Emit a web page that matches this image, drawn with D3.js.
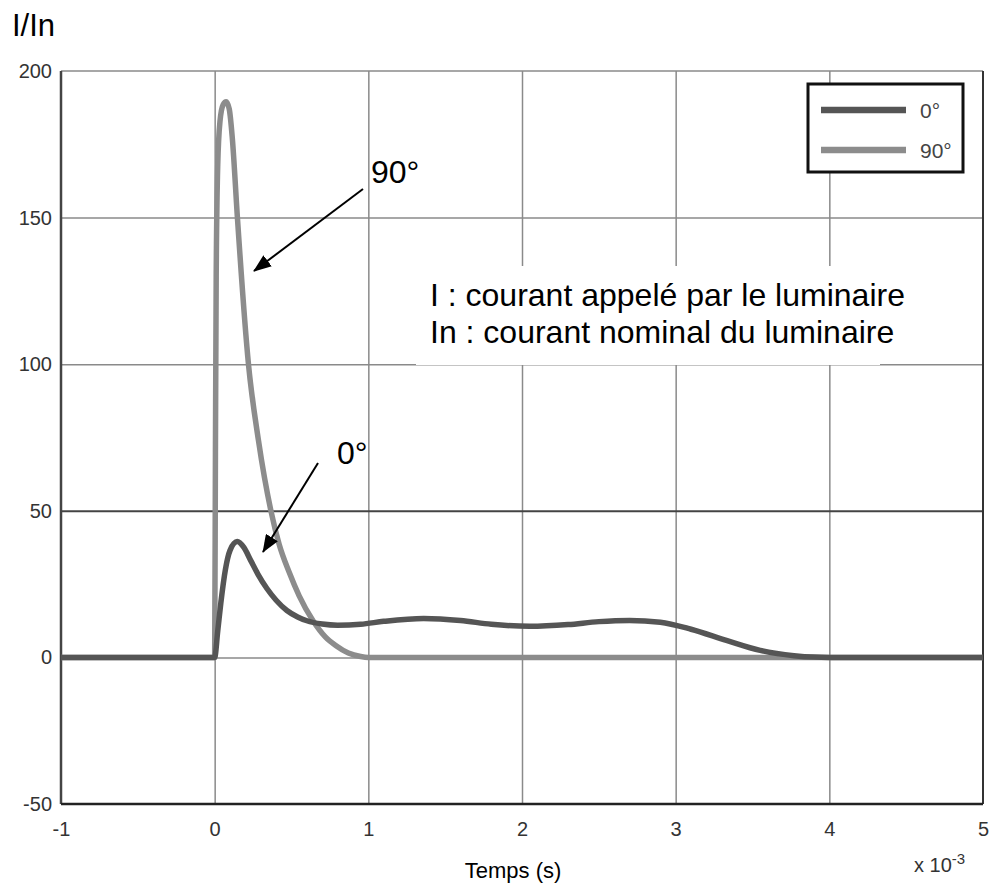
<!DOCTYPE html>
<html>
<head>
<meta charset="utf-8">
<script src="https://cdn.jsdelivr.net/npm/d3@7"></script>
<style>
  body { margin: 0; background: #fff; }
  svg text { font-family: Arial, "Liberation Sans", sans-serif; }
</style>
</head>
<body>
<div id="chart"></div>
<script>
// values (time in ms, i.e. x 10^-3 s)
const xTicks = [-1, 0, 1, 2, 3, 4, 5];
const yTicks = [-50, 0, 50, 100, 150, 200];

const t90 = [-1, 0, 0.005, 0.01, 0.02, 0.035, 0.055, 0.075, 0.095, 0.115, 0.148, 0.22, 0.285, 0.366, 0.42, 0.485, 0.55, 0.64, 0.72, 0.79, 0.87, 0.95, 1.0, 5];
const v90 = [0, 0, 70, 130, 168, 183, 188.5, 189.5, 187, 177, 150, 100, 74, 50, 38.5, 29, 21, 12.5, 7, 4, 1.5, 0.3, 0, 0];

const t0 = [-1, 0, 0.02, 0.04, 0.07, 0.1, 0.147, 0.19, 0.235, 0.28, 0.34, 0.4, 0.47, 0.54, 0.6, 0.7, 0.8, 0.95, 1.1, 1.36, 1.6, 1.8, 2.05, 2.3, 2.5, 2.7, 2.9, 3.1, 3.33, 3.55, 3.77, 3.9, 4.0, 5];
const v0 = [0, 0, 9, 18.5, 30, 36.5, 39.5, 37.5, 33, 28.5, 23.5, 19.5, 16, 13.8, 12.5, 11.4, 11, 11.3, 12.3, 13.3, 12.6, 11.3, 10.6, 11.2, 12.2, 12.6, 12, 9.6, 5.8, 2.4, 0.6, 0.1, 0, 0];

const seriesNames = ["0°", "90°"];
const seriesColors = ["#555555", "#8c8c8c"];

const W = 995, H = 887;
const plotL = 61, plotR = 983, plotT = 71, plotB = 804;

const svg = d3.select("#chart").append("svg")
    .attr("width", W)
    .attr("height", H);

const x = d3.scaleLinear().domain([-1, 5]).range([plotL, plotR]);
const y = d3.scaleLinear().domain([-50, 200]).range([plotB, plotT]);

// GRID //
svg.append("g")
    .attr("transform", "translate(0," + plotB + ")")
    .call(d3.axisBottom(x).tickValues(xTicks.slice(1, -1)).tickSize(-(plotB - plotT)).tickFormat(""))
    .call(g => g.select(".domain").remove())
    .selectAll("line").attr("stroke", "#8a8a8a").attr("stroke-width", 1.5);

svg.append("g")
    .attr("transform", "translate(" + plotL + ",0)")
    .call(d3.axisLeft(y).tickValues(yTicks.slice(1, -1)).tickSize(-(plotR - plotL)).tickFormat(""))
    .call(g => g.select(".domain").remove())
    .selectAll("line")
    .attr("stroke", d => d === 50 ? "#444" : "#8a8a8a")
    .attr("stroke-width", d => d === 50 ? 2 : 1.5);

// white box behind the note text (hides the grid there)
svg.append("rect").attr("x", 416).attr("y", 266).attr("width", 564).attr("height", 94).attr("fill", "#fff");
svg.append("rect").attr("x", 416).attr("y", 358).attr("width", 464).attr("height", 7).attr("fill", "#fff");

// frame
svg.append("line").attr("x1", plotL).attr("x2", plotR).attr("y1", plotT).attr("y2", plotT)
    .attr("stroke", "#8a8a8a").attr("stroke-width", 1.5);
svg.append("line").attr("x1", plotR).attr("x2", plotR).attr("y1", plotT).attr("y2", plotB)
    .attr("stroke", "#333").attr("stroke-width", 2);
svg.append("line").attr("x1", plotL).attr("x2", plotL).attr("y1", plotT).attr("y2", plotB)
    .attr("stroke", "#444").attr("stroke-width", 2.5);
svg.append("line").attr("x1", plotL).attr("x2", plotR).attr("y1", plotB).attr("y2", plotB)
    .attr("stroke", "#222").attr("stroke-width", 2.5);

// TICK LABELS //
svg.append("g")
    .attr("transform", "translate(0," + plotB + ")")
    .call(d3.axisBottom(x).tickValues(xTicks).tickSize(0).tickPadding(18).tickFormat(d => String(d)))
    .call(g => g.select(".domain").remove())
    .selectAll("text")
    .style("font-family", "Arial, 'Liberation Sans', sans-serif")
    .style("font-size", "20px")
    .attr("fill", "#333");

svg.append("g")
    .attr("transform", "translate(" + plotL + ",0)")
    .call(d3.axisLeft(y).tickValues(yTicks).tickSize(0).tickPadding(9).tickFormat(d => String(d)))
    .call(g => g.select(".domain").remove())
    .selectAll("text")
    .style("font-family", "Arial, 'Liberation Sans', sans-serif")
    .style("font-size", "20px")
    .attr("fill", "#333");

// axis titles
svg.append("text")
    .attr("x", 12).attr("y", 36)
    .style("font-size", "31px")
    .text("I/In");

svg.append("text")
    .attr("x", 513).attr("y", 878)
    .attr("text-anchor", "middle")
    .style("font-size", "22px")
    .text("Temps (s)");

let expo = svg.append("text")
    .attr("x", 914).attr("y", 872)
    .style("font-size", "20px")
    .attr("fill", "#333");
expo.append("tspan").text("x 10");
expo.append("tspan").attr("dy", -8).style("font-size", "15px").text("-3");

// CURVES //
const line = d3.line()
    .x(d => x(d[0]))
    .y(d => y(d[1]))
    .curve(d3.curveMonotoneX);

const curves = [d3.zip(t0, v0), d3.zip(t90, v90)];

// 90° underneath, 0° on top
[1, 0].forEach(i => {
    svg.append("path")
        .datum(curves[i])
        .attr("d", line)
        .attr("fill", "none")
        .attr("stroke", seriesColors[i])
        .attr("stroke-width", 5.5)
        .attr("stroke-linejoin", "round");
});

// LEGEND //
svg.append("rect")
    .attr("x", 808).attr("y", 84)
    .attr("width", 155).attr("height", 88)
    .attr("fill", "#fff")
    .attr("stroke", "#111")
    .attr("stroke-width", 3);

seriesNames.forEach((name, i) => {
    let ly = 110 + i * 40;
    svg.append("line")
        .attr("x1", 821).attr("x2", 906)
        .attr("y1", ly).attr("y2", ly)
        .attr("stroke", seriesColors[i])
        .attr("stroke-width", 6.5);
    svg.append("text")
        .attr("x", 920).attr("y", ly + 8)
        .style("font-size", "21px")
        .attr("fill", "#444")
        .text(name);
});

// NOTES & ARROWS //
svg.append("defs").append("marker")
    .attr("id", "head")
    .attr("markerUnits", "userSpaceOnUse")
    .attr("viewBox", "0 0 18 14")
    .attr("refX", 17).attr("refY", 7)
    .attr("markerWidth", 18).attr("markerHeight", 14)
    .attr("orient", "auto")
    .append("path")
    .attr("d", "M0,0 L18,7 L0,14 Z")
    .attr("fill", "#000");

svg.append("line")
    .attr("x1", 363).attr("y1", 189).attr("x2", 254).attr("y2", 271)
    .attr("stroke", "#000").attr("stroke-width", 2)
    .attr("marker-end", "url(#head)");
svg.append("line")
    .attr("x1", 318).attr("y1", 463).attr("x2", 263).attr("y2", 552)
    .attr("stroke", "#000").attr("stroke-width", 2)
    .attr("marker-end", "url(#head)");

svg.append("text").attr("x", 371).attr("y", 183).style("font-size", "32px").text("90°");
svg.append("text").attr("x", 337).attr("y", 464).style("font-size", "32px").text("0°");

svg.append("text").attr("x", 430).attr("y", 306).style("font-size", "32px")
    .text("I : courant appelé par le luminaire");
svg.append("text").attr("x", 430).attr("y", 343).style("font-size", "32px")
    .text("In : courant nominal du luminaire");
</script>
</body>
</html>
